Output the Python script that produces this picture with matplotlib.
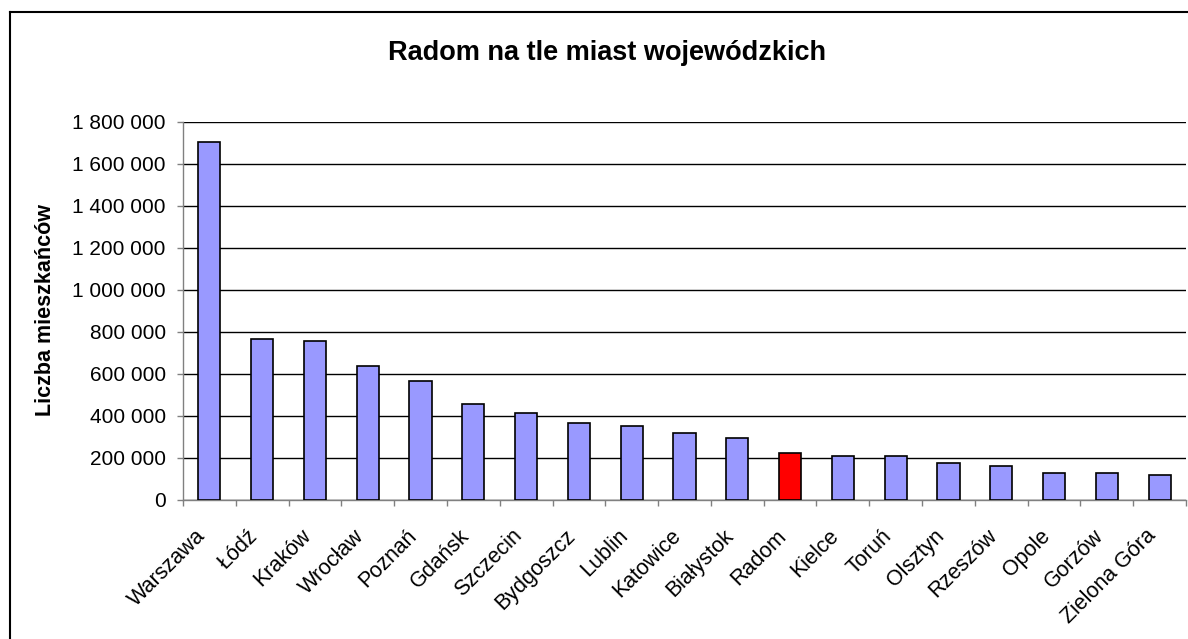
import matplotlib
matplotlib.use("Agg")
import matplotlib.pyplot as plt
from matplotlib.lines import Line2D
from matplotlib.transforms import ScaledTranslation
from matplotlib.ticker import FuncFormatter, MultipleLocator, FixedLocator

cities = ["Warszawa", "Łódź", "Kraków", "Wrocław", "Poznań", "Gdańsk", "Szczecin",
          "Bydgoszcz", "Lublin", "Katowice", "Białystok", "Radom", "Kielce", "Toruń",
          "Olsztyn", "Rzeszów", "Opole", "Gorzów", "Zielona Góra"]
population = [1704000, 763000, 756000, 637000, 564000, 455000, 413000,
              365000, 349000, 317000, 294000, 222000, 206000, 206000,
              174000, 159000, 127000, 127000, 119000]
highlight = "Radom"

plt.rcParams['font.family'] = ['Liberation Sans', 'DejaVu Sans']

fig = plt.figure(figsize=(11.88, 6.39), dpi=100)
ax = fig.add_axes([183/1188, 1-499.5/639, (1186-183)/1188, (499.5-121.5)/639])

x = list(range(len(cities)))
colors = ['#FF0000' if c == highlight else '#9999FF' for c in cities]
ax.bar(x, population, width=0.42, color=colors, edgecolor='black', linewidth=1.2, zorder=3)

ax.set_xlim(-0.5, len(cities) - 0.5)
ax.set_ylim(0, 1800000)
ax.yaxis.set_major_locator(MultipleLocator(200000))
ax.yaxis.set_major_formatter(FuncFormatter(lambda v, p: f"{int(v):,}".replace(",", " ")))
ax.grid(axis='y', color='black', linewidth=1.0, zorder=0)
ax.set_axisbelow(True)

ax.set_xticks(x)
ax.set_xticklabels(cities, rotation=45, ha='right', va='center', rotation_mode='anchor', fontsize=15.5)
ax.tick_params(axis='x', which='major', length=0, pad=24)
shift = ScaledTranslation(-7/100, 0, fig.dpi_scale_trans)
for lbl in ax.get_xticklabels():
    lbl.set_transform(lbl.get_transform() + shift)
ax.xaxis.set_minor_locator(FixedLocator([i - 0.5 for i in range(len(cities) + 1)]))
ax.tick_params(axis='x', which='minor', length=4.5, color='#808080', width=1, direction='out')
ax.tick_params(axis='y', length=4.5, color='#808080', width=1, labelsize=15, pad=8)

for s in ['top', 'right']:
    ax.spines[s].set_visible(False)
for s in ['left', 'bottom']:
    ax.spines[s].set_color('#808080')
    ax.spines[s].set_linewidth(1.0)

fig.text(46/1188, 1-310/639, "Liczba mieszkańców", rotation=90, ha='center', va='center',
         fontsize=15.5, fontweight='bold')

fig.text(607/1188, 1-53/639, "Radom na tle miast wojewódzkich", ha='center', va='center',
         fontsize=19.5, fontweight='bold')

# outer chart border (cropped on the right and bottom)
fig.add_artist(Line2D([10/1188, 10/1188], [0, 1-12/639], transform=fig.transFigure,
                      color='black', linewidth=1.5))
fig.add_artist(Line2D([10/1188, 1], [1-12/639, 1-12/639], transform=fig.transFigure,
                      color='black', linewidth=1.5))

fig.savefig("out.png", dpi=100)
